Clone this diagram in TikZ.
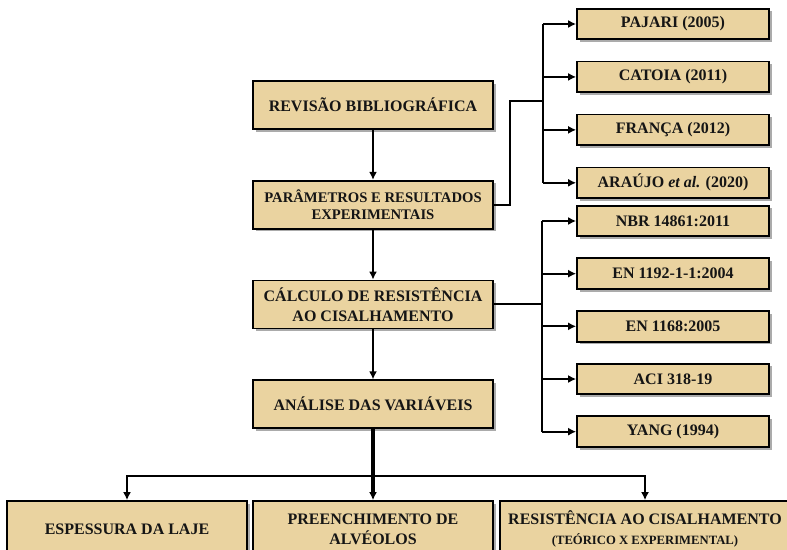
\documentclass[tikz,border=0pt]{standalone}
\usepackage{fontspec}
\setmainfont{Liberation Serif}
\usetikzlibrary{arrows.meta, positioning, calc, shadows}
\definecolor{Parchment}{HTML}{EAD3A0}
\definecolor{InkBlack}{HTML}{151515}
\tikzset{
    stage/.style={draw=black, line width=1.3pt, fill=Parchment,
        drop shadow={shadow xshift=2pt, shadow yshift=-2pt, fill=black!55, opacity=.6},
        minimum width=180pt, minimum height=36pt, align=center, inner sep=2pt,
        text=InkBlack, font=\bfseries\fontsize{12}{15}\selectfont},
    source/.style={stage, minimum width=144pt, minimum height=23pt},
    outcome/.style={stage, minimum height=42pt},
    bus/.style={line width=1.5pt, line join=miter},
    link/.style={bus, -{Latex[length=6pt,width=6pt]}},
}

\begin{document}
\begin{tikzpicture}[x=0.75pt, y=-0.75pt]
    \clip (0,0) rectangle (787,549);

    % Main column
    \node[stage] (rev) at (373,105) {REVISÃO BIBLIOGRÁFICA};
    \node[stage, below=37.5pt of rev, font=\bfseries\fontsize{11}{12.75}\selectfont] (par)
        {PARÂMETROS E RESULTADOS\\EXPERIMENTAIS};
    \node[stage, below=37.5pt of par] (cal) {CÁLCULO DE RESISTÊNCIA\\AO CISALHAMENTO};
    \node[stage, below=37.5pt of cal] (ana) {ANÁLISE DAS VARIÁVEIS};

    % Experimental references
    \node[source] (pajari) at (673,24) {PAJARI (2005)};
    \node[source, below=15.4pt of pajari] (catoia) {CATOIA (2011)};
    \node[source, below=15.4pt of catoia] (franca) {FRANÇA (2012)};
    \node[source, below=15.4pt of franca] (araujo) {ARAÚJO \textit{et al.} (2020)};

    % Design codes
    \node[source] (nbr) at (673,221) {NBR 14861:2011};
    \node[source, below=15.2pt of nbr] (en1992) {EN 1192-1-1:2004};
    \node[source, below=15.2pt of en1992] (en1168) {EN 1168:2005};
    \node[source, below=15.2pt of en1168] (aci) {ACI 318-19};
    \node[source, below=15.2pt of aci] (yang) {YANG (1994)};

    % Variables
    \node[outcome] (esp) at (127,529) {ESPESSURA DA LAJE};
    \node[outcome] (pre) at (373,529) {PREENCHIMENTO DE\\ALVÉOLOS};
    \node[outcome, minimum width=217.5pt] (res) at (645,529)
        {RESISTÊNCIA AO CISALHAMENTO\\{\fontsize{9.5}{11}\selectfont(TEÓRICO X EXPERIMENTAL)}};

    % Main flow
    \draw[link] (rev) -- (par);
    \draw[link] (par) -- (cal);
    \draw[link] (cal) -- (ana);
    \draw[link, line width=2.4pt] (ana) -- (pre);

    % Branch to references
    \coordinate (fork1) at (543,101);
    \draw[bus] (par.east) -- ++(12pt,0) |- (fork1);
    \draw[bus] (fork1 |- pajari.west) -- (fork1 |- araujo.west);
    \foreach \n in {pajari,catoia,franca,araujo}
        \draw[link] (fork1 |- \n.west) -- (\n.west);

    % Branch to codes
    \coordinate (fork2) at (542,302);
    \draw[bus] (cal.east) -- (cal.east -| fork2);
    \draw[bus] (fork2 |- nbr.west) -- (fork2 |- yang.west);
    \foreach \n in {nbr,en1992,en1168,aci,yang}
        \draw[link] (fork2 |- \n.west) -- (\n.west);

    % Branch to variables
    \coordinate (fork3) at (373,476);
    \draw[link] (fork3) -| (esp.north);
    \draw[link] (fork3) -| (res.north);
\end{tikzpicture}
\end{document}
